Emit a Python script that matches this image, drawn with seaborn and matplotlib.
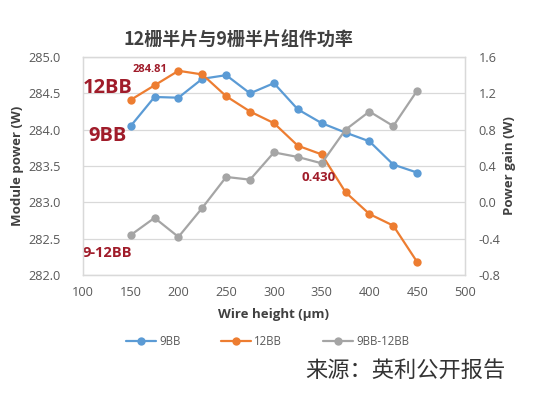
import numpy as np
import pandas as pd
import matplotlib
matplotlib.use("Agg")
import matplotlib.pyplot as plt
import seaborn as sns
from matplotlib.lines import Line2D

wire_height = [150, 175, 200, 225, 250, 275, 300, 325, 350, 375, 400, 425, 450]
power_9bb = [284.05, 284.45, 284.44, 284.70, 284.75, 284.50, 284.64, 284.28, 284.09, 283.96, 283.84, 283.52, 283.41]
power_12bb = [284.41, 284.61, 284.81, 284.76, 284.46, 284.25, 284.09, 283.78, 283.66, 283.14, 282.84, 282.68, 282.18]
gain_9_12 = [-0.36, -0.17, -0.38, -0.06, 0.28, 0.25, 0.55, 0.50, 0.43, 0.80, 1.00, 0.84, 1.23]

series_names = ["9BB", "12BB", "9BB-12BB"]
colors = ["#5B9BD5", "#ED7D31", "#A5A5A5"]
dark_red = "#A01C2A"

sns.set_theme(style="white")
plt.rcParams['font.family'] = ['Open Sans', 'Noto Sans CJK SC', 'DejaVu Sans']

fig = plt.figure(figsize=(5.35, 3.93), dpi=100)
ax = fig.add_axes([0.155, 0.300, 0.714, 0.555])
ax2 = ax.twinx()

df_left = pd.DataFrame({
    "x": wire_height * 2,
    "y": power_9bb + power_12bb,
    "s": [series_names[0]] * len(wire_height) + [series_names[1]] * len(wire_height),
})
sns.lineplot(data=df_left, x="x", y="y", hue="s", palette=colors[:2], marker="o",
             markersize=6, markeredgewidth=0, linewidth=1.6, ax=ax, legend=False)
df_right = pd.DataFrame({"x": wire_height, "y": gain_9_12})
sns.lineplot(data=df_right, x="x", y="y", color=colors[2], marker="o",
             markersize=6, markeredgewidth=0, linewidth=1.6, ax=ax2, legend=False)

ax.set_xlim(100, 500)
ax.set_ylim(282.0, 285.0)
ax2.set_ylim(-0.8, 1.6)
ax.set_xticks(np.arange(100, 501, 50))
ax.set_yticks(np.arange(282.0, 285.01, 0.5))
ax.set_yticklabels([f"{v:.1f}" for v in np.arange(282.0, 285.01, 0.5)])
ax2.set_yticks(np.arange(-0.8, 1.61, 0.4))
ax2.set_yticklabels([f"{v:.1f}" for v in np.arange(-0.8, 1.61, 0.4)])
ax.grid(axis="y", color="#D9D9D9", linewidth=0.9)
ax.set_axisbelow(True)
for a in (ax, ax2):
    for sp in a.spines.values():
        sp.set_color("#D9D9D9")
        sp.set_linewidth(0.9)
    a.tick_params(length=0, labelsize=9.2, colors="#595959", pad=8)
ax.tick_params(axis="y", pad=16)
ax2.tick_params(axis="y", pad=10)

ax.set_xlabel("Wire height (μm)", fontsize=9.5, fontweight="bold", color="#404040", labelpad=6)
ax.set_ylabel("Module power (W)", fontsize=9.5, fontweight="bold", color="#404040", labelpad=3)
ax2.set_ylabel("Power gain (W)", fontsize=9.5, fontweight="bold", color="#404040", labelpad=2)

fig.text(0.445, 0.897, "12栅半片与9栅半片组件功率", ha="center", va="center",
         fontsize=13, fontweight="bold", color="#404040",
         family=['Noto Sans CJK SC', 'DejaVu Sans'])

ax.text(188, 284.83, "284.81", ha="right", va="center", fontsize=8, fontweight="bold", color=dark_red)
ax.text(100, 284.57, "12BB", ha="left", va="center", fontsize=14.5, fontweight="bold", color=dark_red)
ax.text(106, 283.92, "9BB", ha="left", va="center", fontsize=14.5, fontweight="bold", color=dark_red)
ax.text(100, 282.31, "9-12BB", ha="left", va="center", fontsize=10.5, fontweight="bold", color=dark_red)
ax2.text(347, 0.27, "0.430", ha="center", va="center", fontsize=9.5, fontweight="bold", color=dark_red)

handles = [Line2D([0], [0], color=c, marker="o", markersize=6, markeredgewidth=0, linewidth=1.6)
           for c in colors]
fig.legend(handles, series_names, loc="center", bbox_to_anchor=(0.5, 0.132), ncol=3,
           frameon=False, fontsize=8.3, labelcolor="#595959", handlelength=2.6,
           columnspacing=3.5, handletextpad=0.3)

fig.text(0.945, 0.058, "来源：英利公开报告", ha="right", va="center", fontsize=16,
         color="#333333", family=['Noto Sans CJK SC', 'DejaVu Sans'])

fig.savefig("out.png", dpi=100)
